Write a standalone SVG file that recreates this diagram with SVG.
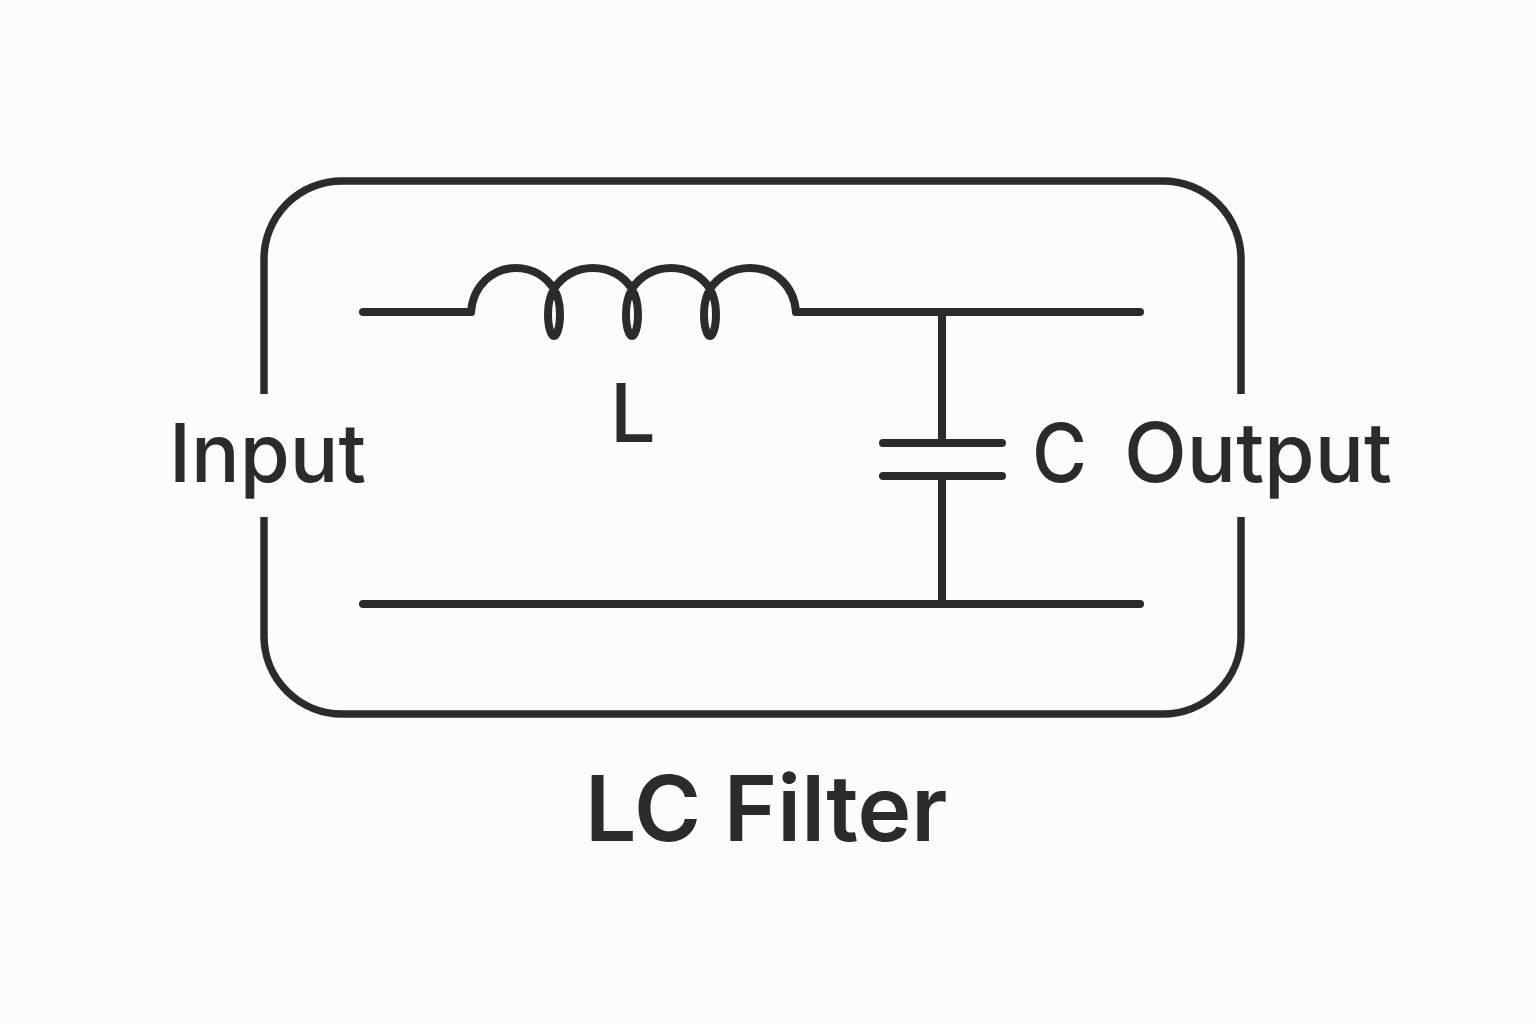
<svg xmlns="http://www.w3.org/2000/svg" width="1536" height="1024" viewBox="0 0 1536 1024">
<style>
.w{fill:none;stroke:#2b2b2b;stroke-width:8;stroke-linecap:round;stroke-linejoin:round}
.b{fill:none;stroke:#2b2b2b;stroke-width:7.5;stroke-linecap:butt}
.t{font-family:Inter,"Noto Sans",sans-serif;fill:#2b2b2b;font-size:81px;font-weight:500}
</style>
<rect width="1536" height="1024" fill="#fcfcfc"/>
<g id="frame"><path class="b" d="M264 394V260A78 78 0 0 1 342 181H1163A78 78 0 0 1 1241 260V394M264 517V636A78 78 0 0 0 342 714H1163A78 78 0 0 0 1241 636V517"/></g>
<g id="connectors">
<path class="w" d="M363 312H471"/>
<path class="w" d="M796 312H1140"/>
<path class="w" d="M363 604H1140"/>
<path class="w" d="M942 312V440"/>
<path class="w" d="M942 477V604"/>
</g>
<g id="inductor"><path class="w" d="M471 312C473 286 492 268 516 268C533 268 546 277 554 289C558 296 560 305 560 314C560 327 557 336 554 336C551 336 548 327 548 314C548 305 550 296 554 289C562 276 576 268 593 268C610 268 624 276 632 289C636 296 638 305 638 314C638 327 635 336 632 336C629 336 626 327 626 314C626 305 628 296 632 289C640 276 654 268 671 268C688 268 702 276 710 289C714 296 716 305 716 314C716 327 713 336 710 336C707 336 704 327 704 314C704 305 706 296 710 289C718 277 732 268 750 268C775 268 794 286 796 312"/></g>
<g id="capacitor"><path class="w" d="M883 443H1002M883 476H1002"/></g>
<g id="labels">
<text class="t" x="169" y="482">Input</text>
<text class="t" x="610" y="442">L</text>
<text class="t" x="1032" y="482" textLength="55" lengthAdjust="spacingAndGlyphs">C</text>
<text class="t" x="1124" y="482" style="font-size:82px">Output</text>
<text class="t" x="585" y="841" style="font-weight:600;font-size:91px">LC Filter</text>
</g>
</svg>
